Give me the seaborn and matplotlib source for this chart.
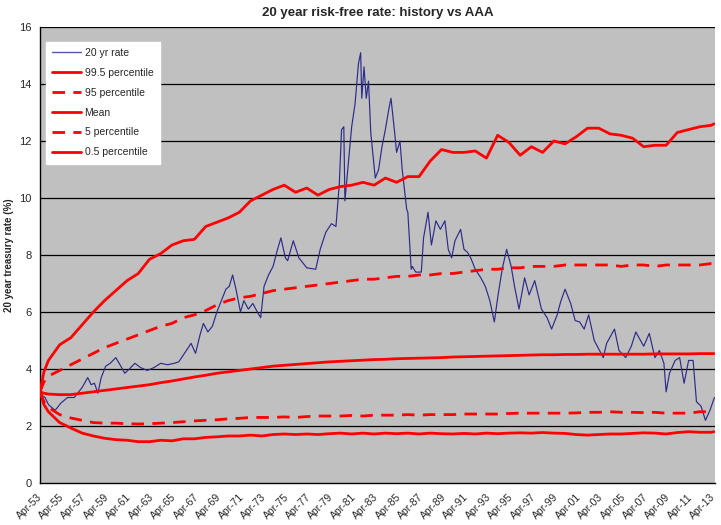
import matplotlib
matplotlib.use("Agg")
import matplotlib.pyplot as plt
from matplotlib.lines import Line2D
import seaborn as sns
import pandas as pd

# ---------------- data ----------------
rate_years = [1953.25, 1953.5, 1953.7, 1954.0, 1954.6, 1955.1, 1955.7, 1956.3, 1956.6, 1957.0,
              1957.5, 1957.8, 1958.1, 1958.4, 1958.7, 1959.1, 1959.5, 1960.0, 1960.3, 1960.8,
              1961.2, 1961.7, 1962.2, 1962.8, 1963.4, 1964.0, 1964.6, 1965.2, 1965.6, 1966.2,
              1966.7, 1967.1, 1967.5, 1967.8, 1968.2, 1968.6, 1969.0, 1969.3, 1969.8, 1970.1,
              1970.4, 1970.7, 1971.1, 1971.4, 1971.8, 1972.2, 1972.6, 1972.9, 1973.2, 1973.6,
              1974.0, 1974.4, 1974.7, 1975.1, 1975.3, 1975.8, 1976.3, 1977.0, 1977.8, 1978.2,
              1978.7, 1979.2, 1979.6, 1979.9, 1980.1, 1980.3, 1980.4, 1980.7, 1981.0, 1981.3,
              1981.6, 1981.8, 1981.9, 1982.1, 1982.3, 1982.5, 1982.7, 1983.1, 1983.4, 1983.7,
              1984.0, 1984.3, 1984.5, 1984.8, 1985.0, 1985.3, 1985.5, 1985.9, 1986.0, 1986.3,
              1986.4, 1986.7, 1987.2, 1987.4, 1987.8, 1988.1, 1988.5, 1988.9, 1989.3, 1989.6,
              1989.9, 1990.2, 1990.7, 1991.0, 1991.3, 1991.6, 1992.0, 1992.5, 1992.9, 1993.3,
              1993.7, 1994.0, 1994.4, 1994.8, 1995.2, 1995.5, 1995.9, 1996.4, 1996.8, 1997.3,
              1997.9, 1998.4, 1998.8, 1999.3, 1999.6, 2000.0, 2000.5, 2000.9, 2001.3, 2001.7,
              2002.1, 2002.6, 2003.4, 2003.7, 2004.4, 2004.8, 2005.4, 2005.9, 2006.3, 2007.0,
              2007.5, 2008.0, 2008.4, 2008.8, 2009.0, 2009.3, 2009.8, 2010.2, 2010.6, 2011.0,
              2011.4, 2011.7, 2012.1, 2012.5, 2012.9, 2013.3]
rate_values = [3.2, 3.05, 3.0, 2.75, 2.55, 2.8, 3.0, 3.0, 3.15, 3.35,
               3.7, 3.45, 3.5, 3.15, 3.7, 4.1, 4.2, 4.4, 4.2, 3.85,
               4.0, 4.2, 4.05, 3.95, 4.05, 4.2, 4.15, 4.2, 4.25, 4.6,
               4.9, 4.55, 5.2, 5.6, 5.3, 5.5, 6.0, 6.3, 6.8, 6.9,
               7.3, 6.8, 6.0, 6.4, 6.1, 6.3, 6.0, 5.8, 6.9, 7.3,
               7.6, 8.2, 8.6, 7.9, 7.8, 8.5, 7.9, 7.55, 7.5, 8.2,
               8.8, 9.1, 9.0, 10.5, 12.4, 12.5, 9.9, 11.2, 12.5, 13.3,
               14.7, 15.1, 13.5, 14.6, 13.5, 14.1, 12.3, 10.7, 11.0, 11.8,
               12.4, 13.1, 13.5, 12.4, 11.6, 12.0, 11.0, 9.6, 9.5, 7.5,
               7.6, 7.4, 7.4, 8.6, 9.5, 8.35, 9.2, 8.9, 9.2, 8.2,
               7.9, 8.5, 8.9, 8.2, 8.1, 7.9, 7.5, 7.2, 6.9, 6.4,
               5.65, 6.5, 7.5, 8.2, 7.6, 6.9, 6.1, 7.2, 6.6, 7.1,
               6.1, 5.8, 5.4, 5.9, 6.35, 6.8, 6.3, 5.7, 5.65, 5.4,
               5.9, 5.0, 4.4, 4.9, 5.4, 4.65, 4.4, 4.8, 5.3, 4.8,
               5.25, 4.4, 4.65, 4.2, 3.2, 3.85, 4.3, 4.4, 3.5, 4.3,
               4.3, 2.85, 2.7, 2.2, 2.55, 3.0]

sim_years = [1953.25, 1953.6,
             1954, 1955, 1956, 1957, 1958, 1959, 1960, 1961, 1962, 1963,
             1964, 1965, 1966, 1967, 1968, 1969, 1970, 1971, 1972, 1973,
             1974, 1975, 1976, 1977, 1978, 1979, 1980, 1981, 1982, 1983,
             1984, 1985, 1986, 1987, 1988, 1989, 1990, 1991, 1992, 1993,
             1994, 1995, 1996, 1997, 1998, 1999, 2000, 2001, 2002, 2003,
             2004, 2005, 2006, 2007, 2008, 2009, 2010, 2011, 2012, 2013,
             2013.25]
p995 = [3.2, 3.9,
        4.3, 4.85, 5.1, 5.55, 6.0, 6.4, 6.75, 7.1, 7.35, 7.85,
        8.05, 8.35, 8.5, 8.55, 9.0, 9.15, 9.3, 9.5, 9.9, 10.1,
        10.3, 10.45, 10.2, 10.35, 10.1, 10.3, 10.4, 10.45, 10.55, 10.45,
        10.7, 10.55, 10.75, 10.75, 11.3, 11.7, 11.6, 11.6, 11.65, 11.4,
        12.2, 11.95, 11.5, 11.8, 11.6, 12.0, 11.9, 12.15, 12.45, 12.45,
        12.25, 12.2, 12.1, 11.8, 11.85, 11.85, 12.3, 12.4, 12.5, 12.55,
        12.6]
p95 = [3.2, 3.55,
       3.75, 3.95, 4.15, 4.35, 4.55, 4.75, 4.9, 5.05, 5.2, 5.35,
       5.5, 5.6, 5.8, 5.9, 6.05, 6.25, 6.4, 6.5, 6.55, 6.65,
       6.75, 6.8, 6.85, 6.9, 6.95, 7.0, 7.05, 7.1, 7.15, 7.15,
       7.2, 7.25, 7.25, 7.3, 7.3, 7.35, 7.35, 7.4, 7.45, 7.5,
       7.5, 7.55, 7.55, 7.6, 7.6, 7.6, 7.65, 7.65, 7.65, 7.65,
       7.65, 7.6, 7.65, 7.65, 7.6, 7.65, 7.65, 7.65, 7.65, 7.7,
       7.7]
p_mean = [3.2, 3.15,
          3.12, 3.1, 3.1, 3.15, 3.2, 3.25, 3.3, 3.35, 3.4, 3.45,
          3.52, 3.58, 3.65, 3.72, 3.78, 3.85, 3.9, 3.95, 4.0, 4.05,
          4.1, 4.13, 4.16, 4.19, 4.22, 4.25, 4.27, 4.29, 4.31, 4.33,
          4.34, 4.36, 4.37, 4.38, 4.39, 4.4, 4.42, 4.43, 4.44, 4.45,
          4.46, 4.47, 4.48, 4.49, 4.5, 4.5, 4.51, 4.51, 4.52, 4.52,
          4.52, 4.52, 4.52, 4.52, 4.53, 4.53, 4.53, 4.53, 4.54, 4.54,
          4.54]
p5 = [3.2, 2.85,
      2.65, 2.4, 2.28, 2.2, 2.12, 2.1, 2.1, 2.08, 2.07, 2.08,
      2.1, 2.12, 2.15, 2.18, 2.2, 2.22, 2.25, 2.27, 2.3, 2.3,
      2.3, 2.32, 2.3, 2.33, 2.35, 2.35, 2.35, 2.37, 2.35, 2.38,
      2.38, 2.38, 2.4, 2.38, 2.4, 2.4, 2.4, 2.42, 2.42, 2.42,
      2.42, 2.44, 2.45, 2.45, 2.45, 2.45, 2.45, 2.46, 2.48, 2.48,
      2.5, 2.48, 2.48, 2.47, 2.48, 2.45, 2.45, 2.45, 2.5, 2.5,
      2.5]
p05 = [3.2, 2.75,
       2.5, 2.12, 1.93, 1.75, 1.65, 1.57, 1.52, 1.5, 1.45, 1.45,
       1.5, 1.48, 1.55, 1.55, 1.6, 1.62, 1.65, 1.65, 1.68, 1.65,
       1.7, 1.72, 1.7, 1.72, 1.7, 1.73, 1.75, 1.72, 1.75, 1.72,
       1.75, 1.73, 1.75, 1.72, 1.75, 1.73, 1.72, 1.74, 1.72, 1.75,
       1.73, 1.75, 1.76, 1.75, 1.77, 1.75, 1.74, 1.7, 1.68, 1.7,
       1.72, 1.72, 1.74, 1.76, 1.75, 1.72, 1.77, 1.8, 1.78, 1.78,
       1.8]

tick_positions = [1953.25 + 2 * k for k in range(31)]
tick_labels = ["Apr-53", "Apr-55", "Apr-57", "Apr-59", "Apr-61", "Apr-63", "Apr-65",
               "Apr-67", "Apr-69", "Apr-71", "Apr-73", "Apr-75", "Apr-77", "Apr-79",
               "Apr-81", "Apr-83", "Apr-85", "Apr-87", "Apr-89", "Apr-91", "Apr-93",
               "Apr-95", "Apr-97", "Apr-99", "Apr-01", "Apr-03", "Apr-05", "Apr-07",
               "Apr-09", "Apr-11", "Apr-13"]
y_ticks = [0, 2, 4, 6, 8, 10, 12, 14, 16]

# ---------------- plot ----------------
sns.set_style("white")
plt.rcParams["font.family"] = ["Liberation Sans", "DejaVu Sans"]

fig = plt.figure(figsize=(7.21, 5.25), dpi=100)
ax = fig.add_axes([40 / 721, 42 / 525, 675 / 721, 456 / 525])
ax.set_facecolor("#C0C0C0")

rate_df = pd.DataFrame({"year": rate_years, "rate": rate_values})
sim_df = pd.DataFrame({"year": sim_years, "p995": p995, "p95": p95,
                       "mean": p_mean, "p5": p5, "p05": p05})

red = "#FF0000"
blue = "#2B2B8C"
lw_red = 2.0
dash = (4.5, 3.0)

sns.lineplot(data=rate_df, x="year", y="rate", ax=ax, color=blue, linewidth=0.85, zorder=3)
sns.lineplot(data=sim_df, x="year", y="p995", ax=ax, color=red, linewidth=lw_red, zorder=4)
sns.lineplot(data=sim_df, x="year", y="p95", ax=ax, color=red, linewidth=lw_red, zorder=4)
ax.lines[-1].set_dashes(dash)
sns.lineplot(data=sim_df, x="year", y="mean", ax=ax, color=red, linewidth=lw_red, zorder=4)
sns.lineplot(data=sim_df, x="year", y="p5", ax=ax, color=red, linewidth=lw_red, zorder=4)
ax.lines[-1].set_dashes(dash)
sns.lineplot(data=sim_df, x="year", y="p05", ax=ax, color=red, linewidth=lw_red, zorder=4)

ax.set_xlim(1953.25, 2013.35)
ax.set_ylim(0, 16)
ax.set_yticks(y_ticks)
ax.set_yticklabels([str(v) for v in y_ticks], fontsize=8)
ax.set_xticks(tick_positions)
ax.set_xticklabels(tick_labels, rotation=45, ha="right", va="center",
                   rotation_mode="anchor", fontsize=7.5)
ax.tick_params(axis="both", direction="out", length=4, width=0.8, color="black", pad=2)
ax.tick_params(axis="x", pad=5)

ax.grid(False)
for v in y_ticks[1:]:
    ax.axhline(v, color="black", linewidth=0.9, zorder=1)

for s in ["top", "right"]:
    ax.spines[s].set_visible(False)
for s in ["left", "bottom"]:
    ax.spines[s].set_color("black")
    ax.spines[s].set_linewidth(1.0)

ax.set_xlabel("")
ax.set_ylabel("20 year treasury rate (%)", fontsize=7, fontweight="bold", labelpad=4)
ax.set_title("20 year risk-free rate: history vs AAA", fontsize=9.5, fontweight="bold", pad=8)

handles = [
    Line2D([], [], color="#5555AA", linewidth=1.0),
    Line2D([], [], color=red, linewidth=lw_red),
    Line2D([], [], color=red, linewidth=lw_red, dashes=dash),
    Line2D([], [], color=red, linewidth=lw_red),
    Line2D([], [], color=red, linewidth=lw_red, dashes=dash),
    Line2D([], [], color=red, linewidth=lw_red),
]
labels = ["20 yr rate", "99.5 percentile", "95 percentile", "Mean", "5 percentile", "0.5 percentile"]
leg = ax.legend(handles, labels, loc="upper left", bbox_to_anchor=(0.009, 0.968),
                fontsize=7.5, frameon=True, fancybox=False, framealpha=1,
                facecolor="white", edgecolor="white", handlelength=2.8,
                handletextpad=0.3, labelspacing=0.95, borderpad=0.6, borderaxespad=0)
leg.set_zorder(10)

fig.savefig("out.png", dpi=100, facecolor="white")
